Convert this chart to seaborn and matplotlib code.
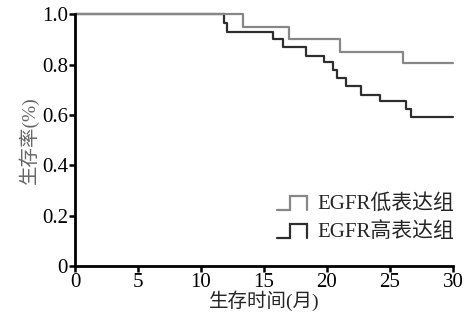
import seaborn as sns
import matplotlib.pyplot as plt
import pandas as pd
from matplotlib.lines import Line2D
from matplotlib.legend_handler import HandlerBase

# --- Kaplan-Meier curves ---
low_label = "EGFR低表达组"
high_label = "EGFR高表达组"

low_time = [0, 13.3, 17.0, 21.0, 26.0, 30]
low_surv = [1.0, 0.95, 0.90, 0.85, 0.805, 0.805]

high_time = [0, 11.8, 12.1, 15.7, 16.5, 18.3, 19.8, 20.5, 20.8, 21.5, 22.7, 24.2, 26.3, 26.7, 30]
high_surv = [1.0, 0.965, 0.93, 0.90, 0.87, 0.835, 0.81, 0.78, 0.745, 0.715, 0.68, 0.655, 0.625, 0.59, 0.59]

x_ticks = [0, 5, 10, 15, 20, 25, 30]
y_ticks = [0, 0.2, 0.4, 0.6, 0.8, 1.0]
y_tick_labels = ["0", "0.2", "0.4", "0.6", "0.8", "1.0"]

colors = {low_label: "#878787", high_label: "#2e2e2e"}

df = pd.concat([
    pd.DataFrame({"time": high_time, "surv": high_surv, "group": high_label}),
    pd.DataFrame({"time": low_time, "surv": low_surv, "group": low_label}),
])

sns.set_style("ticks")
plt.rcParams["font.family"] = ["Liberation Serif", "Noto Sans CJK SC"]


class StepHandler(HandlerBase):
    # Prism-style step icon: _|‾|
    def create_artists(self, legend, orig_handle, xdescent, ydescent,
                       width, height, fontsize, trans):
        x0, y0 = -xdescent, -ydescent - height * 0.05
        xm = x0 + width * 0.45
        x1 = x0 + width
        y1 = y0 + height * 0.95
        line = Line2D([x0, xm, xm, x1, x1], [y0, y0, y1, y1, y0],
                      color=orig_handle.get_color(), lw=orig_handle.get_linewidth(),
                      solid_joinstyle="miter")
        line.set_transform(trans)
        return [line]


fig = plt.figure(figsize=(4.66, 3.21), dpi=100)
ax = fig.add_axes([0.161, 0.171, 0.811, 0.785])

sns.lineplot(data=df, x="time", y="surv", hue="group",
             hue_order=[high_label, low_label], palette=colors,
             estimator=None, sort=False, drawstyle="steps-post",
             linewidth=1.6, legend=False, ax=ax)
for ln in ax.lines:
    ln.set_clip_on(False)

ax.set_xlim(0, 30)
ax.set_ylim(0, 1.0)
ax.set_xticks(x_ticks)
ax.set_yticks(y_ticks)
ax.set_yticklabels(y_tick_labels)
ax.tick_params(axis="both", labelsize=15, width=1.8, length=4, direction="out",
               colors="black", pad=1)

sns.despine(ax=ax)
for side in ["left", "bottom"]:
    ax.spines[side].set_linewidth(2.0)
    ax.spines[side].set_color("black")

ax.set_xlabel("生存时间(月)", fontsize=14, labelpad=-1)
ax.set_ylabel("生存率(%)", fontsize=14, color="#666666", labelpad=2)

handles = [Line2D([], [], color=colors[low_label], lw=1.6),
           Line2D([], [], color=colors[high_label], lw=1.6)]
ax.legend(handles, [low_label, high_label], loc="upper left",
          bbox_to_anchor=(0.534, 0.285), frameon=False, fontsize=15,
          borderpad=0, borderaxespad=0,
          handlelength=1.45, handletextpad=0.48, labelspacing=0.4,
          handler_map={Line2D: StepHandler()})

plt.savefig("out.png", dpi=100)
plt.close()
